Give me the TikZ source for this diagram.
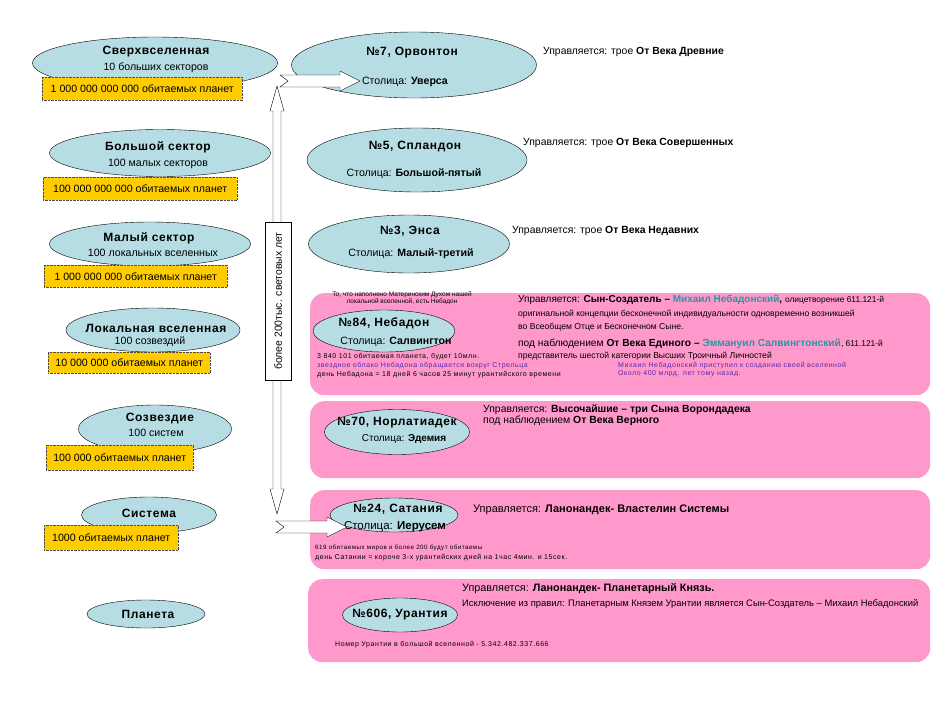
\documentclass[tikz,border=0pt]{standalone}
\usepackage{fontspec}
\setmainfont{Liberation Sans}
\newfontfamily\spacedfont[LetterSpace=5]{Liberation Sans}
\newfontfamily\widefont[LetterSpace=8]{Liberation Sans}
\usetikzlibrary{shapes.geometric}
\definecolor{ovalblue}{RGB}{182,221,227}
\definecolor{gold}{RGB}{255,204,0}
\definecolor{panelpink}{RGB}{255,153,204}
\definecolor{nameteal}{RGB}{40,150,165}
\definecolor{notepurple}{RGB}{90,40,170}

\begin{document}
\begin{tikzpicture}[x=1pt, y=-1pt,
  oval/.style={ellipse, draw, thin, fill=ovalblue, inner sep=0pt},
  count/.style={fill=gold, draw=black!70, densely dotted, thin, inner sep=0pt, anchor=north west, font=\fontsize{10.6}{12}\selectfont},
  panel/.style={fill=panelpink, rounded corners=14pt, inner sep=0pt, anchor=north west},
  title/.style={font=\spacedfont\bfseries\fontsize{12}{14}\selectfont, inner sep=0pt},
  sub/.style={font=\fontsize{10.6}{12}\selectfont, inner sep=0pt},
  note/.style={font=\fontsize{10.4}{12}\selectfont, inner sep=0pt, anchor=west},
  small/.style={font=\fontsize{8.6}{10}\selectfont, inner sep=0pt, anchor=west},
  tiny/.style={font=\widefont\fontsize{7}{8}\selectfont, inner sep=0pt, anchor=west},
  blockarrow/.style={draw, thin, fill=white, line join=miter}]
\useasboundingbox (0,0) rectangle (950,712);

% left column
\node[oval, minimum width=245, minimum height=52] (super) at (155,63) {};
\node[title] at (156,52) {Сверхвселенная};
\node[sub] at (156,68) {10 больших секторов};
\node[count, minimum width=200, minimum height=23] (superN) at (42,77) {1 000 000 000 000 обитаемых планет};

\node[oval, minimum width=221, minimum height=47] (major) at (160,153) {};
\node[title] at (158,147) {Большой сектор};
\node[sub] at (158,164) {100 малых секторов};
\node[count, minimum width=194, minimum height=23] (majorN) at (43,177) {100 000 000 000 обитаемых  планет};

\node[oval, minimum width=201, minimum height=44] (minor) at (150,244) {};
\node[title] at (149,238) {Малый сектор};
\node[sub] at (153,253) {100 локальных вселенных};
\node[count, minimum width=183, minimum height=22] (minorN) at (44,265) {1 000 000 000 обитаемых  планет};

\node[oval, minimum width=174, minimum height=44] (local) at (153,330) {};
\node[title] at (156,328) {Локальная вселенная};
\node[sub] at (150,342) {100 созвездий};
\node[count, minimum width=162, minimum height=21] (localN) at (48,352) {10 000 000 обитаемых планет};

\node[oval, minimum width=153, minimum height=48] (const) at (155,429) {};
\node[title] at (160,418) {Созвездие};
\node[sub] at (156,433) {100 систем};
\node[count, minimum width=147, minimum height=25] (constN) at (46,445) {100 000 обитаемых планет};

\node[oval, minimum width=135, minimum height=36] (system) at (149,515) {};
\node[title] at (149,513) {Система};
\node[count, minimum width=134, minimum height=25] (systemN) at (44,525) {1000 обитаемых  планет};

\node[oval, minimum width=118, minimum height=28] (planet) at (146,614) {};
\node[title] at (148,614) {Планета};

% arrows
\draw[blockarrow] (277,86) -- (284,111) -- (281,111) -- (281,489) -- (284,489) -- (277,514)
  -- (270,489) -- (273,489) -- (273,111) -- (270,111) -- cycle;
\node[draw, thin, fill=white, rotate=90, minimum width=158, minimum height=26, inner sep=0pt,
  font=\fontsize{10.4}{12}\selectfont] (span) at (278,301) {более 200тыс. световых лет};

% superuniverses
\node[oval, minimum width=245, minimum height=66] (orvonton) at (414,65) {};
\node[title] at (412,53) {№7, Орвонтон};
\node[sub] at (405,82) {Столица: \textbf{Уверса}};
\node[note] at (543,52) {Управляется: трое \textbf{От Века Древние}};

\node[oval, minimum width=220, minimum height=64] (splandon) at (417,160) {};
\node[title] at (415,147) {№5, Спландон};
\node[sub] at (414,174) {Столица: \textbf{Большой-пятый}};
\node[note] at (523,143) {Управляется: трое \textbf{От Века Совершенных}};

\node[oval, minimum width=201, minimum height=58] (ensa) at (409,244) {};
\node[title] at (410,231) {№3, Энса};
\node[sub] at (411,254) {Столица: \textbf{Малый-третий}};
\node[note] at (512,231) {Управляется: трое \textbf{От Века Недавних}};

\draw[blockarrow] (280,75) -- (340,75) -- (340,71) -- (360,81) -- (340,91) -- (340,87) -- (280,87) -- (288,81) -- cycle;

% nebadon
\node[panel, minimum width=620, minimum height=102] (nebadonBox) at (310,293) {};
\node[font=\fontsize{6.5}{6.5}\selectfont, align=center, inner sep=0pt] at (402,298)
  {То, что наполнено Материнским Духом нашей\\локальной вселенной, есть Небадон};
\node[oval, minimum width=142, minimum height=42] (nebadon) at (384,331) {};
\node[title] at (384,323) {№84, Небадон};
\node[sub] at (396,342) {Столица: \textbf{Салвингтон}};
\node[tiny] at (317,357) {3 840 101 обитаемая планета, будет 10млн.};
\node[tiny, text=notepurple] at (317,366) {звездное облако Небадона обращается вокруг Стрельца};
\node[tiny] at (317,375) {день Небадона = 18 дней 6 часов 25 минут урантийского времени};
\node[note, font=\fontsize{10}{12}\selectfont] at (518,300) {Управляется: \textbf{Сын-Создатель – \textcolor{nameteal}{Михаил Небадонский},} {\fontsize{8.4}{10}\selectfont олицетворение 611.121-й}};
\node[small] at (518,314) {оригинальной концепции бесконечной индивидуальности одновременно возникшей};
\node[small] at (518,327) {во Всеобщем Отце и Бесконечном Сыне.};
\node[note, font=\fontsize{10.2}{12}\selectfont] at (518,344) {под наблюдением \textbf{От Века Единого – \textcolor{nameteal}{Эммануил Салвингтонский}}{\fontsize{8.4}{10}\selectfont, 611.121-й}};
\node[small] at (518,356) {представитель шестой категории Высших Троичный Личностей};
\node[tiny, text=notepurple] at (618,366) {Михаил Небадонский приступил к созданию своей вселенной};
\node[tiny, text=notepurple] at (618,374) {Около 400 млрд. лет тому назад.};

% norlatiadek
\node[panel, minimum width=620, minimum height=77] (norlatiadekBox) at (310,401) {};
\node[oval, minimum width=145, minimum height=45] (norlatiadek) at (397,432) {};
\node[title] at (397,423) {№70, Норлатиадек};
\node[sub, font=\fontsize{10}{12}\selectfont] at (404,439) {Столица: \textbf{Эдемия}};
\node[note] at (483,410) {Управляется: \textbf{Высочайшие – три Сына Ворондадека}};
\node[note] at (483,421) {под наблюдением \textbf{От Века Верного}};

% satania
\node[panel, minimum width=620, minimum height=79] (sataniaBox) at (310,490) {};
\node[oval, minimum width=128, minimum height=34] (satania) at (394,515) {};
\node[title] at (398,509) {№24, Сатания};
\node[sub, font=\fontsize{11.5}{13}\selectfont] at (395,527) {Столица: \textbf{Иерусем}};
\node[note, font=\fontsize{11}{13}\selectfont] at (473,510) {Управляется: \textbf{Ланонандек- Властелин Системы}};
\node[tiny, font=\widefont\fontsize{6.2}{7}\selectfont] at (315,548) {619 обитаемых миров и более 200 будут обитаемы};
\node[tiny] at (315,558) {день Сатании = короче 3-х урантийских дней на 1час 4мин. и 15сек.};

\draw[blockarrow] (276,521) -- (327,521) -- (327,517) -- (347,527) -- (327,537) -- (327,533) -- (276,533) -- (284,527) -- cycle;

% urantia
\node[panel, minimum width=622, minimum height=83] (urantiaBox) at (308,579) {};
\node[oval, minimum width=115, minimum height=34] (urantia) at (400,615) {};
\node[title] at (400,615) {№606, Урантия};
\node[note, font=\fontsize{10.8}{12}\selectfont] at (462,589) {Управляется: \textbf{Ланонандек-  Планетарный Князь.}};
\node[small, font=\fontsize{9.4}{11}\selectfont] at (462,604) {Исключение из правил: Планетарным Князем Урантии является Сын-Создатель – Михаил Небадонский};
\node[tiny] at (335,645) {Номер Урантии в большой вселенной - 5.342.482.337.666};
\end{tikzpicture}
\end{document}
